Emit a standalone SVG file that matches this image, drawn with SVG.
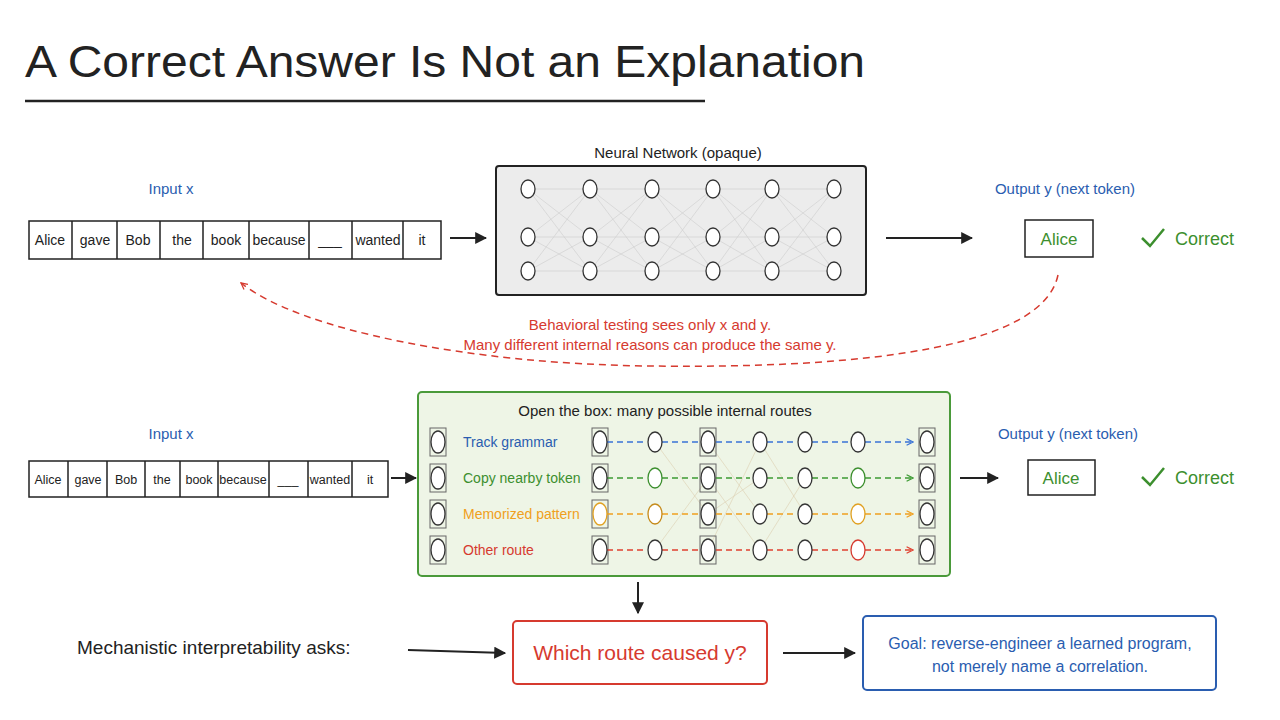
<svg xmlns="http://www.w3.org/2000/svg" width="1280" height="720" viewBox="0 0 1280 720">
<defs>
<marker id="ah" viewBox="0 0 10 10" refX="9" refY="5" markerWidth="8" markerHeight="8" orient="auto-start-reverse" markerUnits="userSpaceOnUse"><path d="M1,1 L9,5 L1,9" fill="none" stroke="context-stroke" stroke-width="1.6"/></marker>
<marker id="ahb" viewBox="0 0 10 10" refX="9" refY="5" markerWidth="12" markerHeight="12" orient="auto" markerUnits="userSpaceOnUse"><path d="M0,0 L10,5 L0,10 Z" fill="#222"/></marker>
</defs>
<style>
text{font-family:"Liberation Sans","DejaVu Sans",sans-serif;fill:#222}
.t{font-size:15px}
.tok{font-size:14px;text-anchor:middle}
.tok2{font-size:12.5px;text-anchor:middle}
.cell{fill:#fff;stroke:#222;stroke-width:1.5}
.nd{fill:#fff;stroke:#333;stroke-width:1.3}
.ln{stroke:#222;stroke-width:2;fill:none;marker-end:url(#ahb)}
.blue{fill:#2a5db0}.green{fill:#3c8f2e}.red{fill:#d63a2f}.orange{fill:#f0a020}
.w{stroke:#ccc;stroke-width:0.6}
</style>
<rect width="1280" height="720" fill="#fff"/>
<text x="25" y="77" style="font-size:44px" textLength="840" lengthAdjust="spacingAndGlyphs">A Correct Answer Is Not an Explanation</text>
<line x1="25" y1="101" x2="705" y2="101" stroke="#222" stroke-width="2.5"/>

<g id="input-top">
<text x="171" y="194" class="t blue" text-anchor="middle">Input x</text>
<rect x="29" y="221" width="412" height="38" class="cell"/>
<path d="M72,221V259M117,221V259M160,221V259M203,221V259M249,221V259M309,221V259M352,221V259M403,221V259" stroke="#222" stroke-width="1.5"/>
<text x="50" y="245" class="tok">Alice</text><text x="95" y="245" class="tok">gave</text><text x="138" y="245" class="tok">Bob</text><text x="182" y="245" class="tok">the</text><text x="226" y="245" class="tok">book</text><text x="279" y="245" class="tok">because</text><text x="330" y="245" class="tok">___</text><text x="378" y="245" class="tok">wanted</text><text x="422" y="245" class="tok">it</text>
</g>

<g id="nn-opaque">
<text x="678" y="158" class="t" text-anchor="middle">Neural Network (opaque)</text>
<rect x="496" y="166" width="370" height="129" rx="3" fill="#ececec" stroke="#222" stroke-width="2"/>
<g class="w">
<path d="M528,189L590,237M528,189L590,271M528,237L590,189M528,237L590,271M528,271L590,189M528,271L590,237M590,189L652,237M590,189L652,271M590,237L652,189M590,237L652,271M590,271L652,189M590,271L652,237M652,189L713,237M652,189L713,271M652,237L713,189M652,237L713,271M652,271L713,189M652,271L713,237M713,189L772,237M713,189L772,271M713,237L772,189M713,237L772,271M713,271L772,189M713,271L772,237M772,189L834,237M772,189L834,271M772,237L834,189M772,237L834,271M772,271L834,189M772,271L834,237M528,189H834M528,237H834M528,271H834"/>
</g>
<g class="nd">
<ellipse cx="528" cy="189" rx="7" ry="9"/><ellipse cx="528" cy="237" rx="7" ry="9"/><ellipse cx="528" cy="271" rx="7" ry="9"/>
<ellipse cx="590" cy="189" rx="7" ry="9"/><ellipse cx="590" cy="237" rx="7" ry="9"/><ellipse cx="590" cy="271" rx="7" ry="9"/>
<ellipse cx="652" cy="189" rx="7" ry="9"/><ellipse cx="652" cy="237" rx="7" ry="9"/><ellipse cx="652" cy="271" rx="7" ry="9"/>
<ellipse cx="713" cy="189" rx="7" ry="9"/><ellipse cx="713" cy="237" rx="7" ry="9"/><ellipse cx="713" cy="271" rx="7" ry="9"/>
<ellipse cx="772" cy="189" rx="7" ry="9"/><ellipse cx="772" cy="237" rx="7" ry="9"/><ellipse cx="772" cy="271" rx="7" ry="9"/>
<ellipse cx="834" cy="189" rx="7" ry="9"/><ellipse cx="834" cy="237" rx="7" ry="9"/><ellipse cx="834" cy="271" rx="7" ry="9"/>
</g>
</g>

<g id="output-top">
<text x="1065" y="194" class="t blue" text-anchor="middle">Output y (next token)</text>
<rect x="1025" y="220" width="68" height="37" class="cell"/>
<text x="1059" y="245" style="font-size:17px" text-anchor="middle" class="green">Alice</text>
<path d="M1142,238l8,8l14,-17" fill="none" stroke="#3c8f2e" stroke-width="2.5"/>
<text x="1175" y="245" style="font-size:18px" class="green">Correct</text>
</g>

<g id="input-bottom">
<text x="171" y="439" class="t blue" text-anchor="middle">Input x</text>
<rect x="29" y="461" width="359" height="36" class="cell"/>
<path d="M68,461V497M107,461V497M145,461V497M180,461V497M218,461V497M269,461V497M308,461V497M352,461V497" stroke="#222" stroke-width="1.5"/>
<text x="48" y="484" class="tok2">Alice</text><text x="88" y="484" class="tok2">gave</text><text x="126" y="484" class="tok2">Bob</text><text x="162" y="484" class="tok2">the</text><text x="199" y="484" class="tok2">book</text><text x="243" y="484" class="tok2">because</text><text x="288" y="484" class="tok2">___</text><text x="330" y="484" class="tok2">wanted</text><text x="370" y="484" class="tok2">it</text>
</g>

<g id="open-box">
<rect x="418" y="392" width="532" height="184" rx="4" fill="#eef5e6" stroke="#4a9a3a" stroke-width="2"/>
<text x="665" y="416" class="t" text-anchor="middle">Open the box: many possible internal routes</text>
<g class="w" style="stroke:#dccfb0">
<path d="M708,442L760,514M708,478L760,550M708,550L760,442M708,514L760,478M655,442L708,514M655,550L708,478M760,442L805,514M760,550L805,478"/>
</g>
<g fill="none" stroke="#666" stroke-width="1">
<rect x="430" y="428" width="16" height="28"/><rect x="430" y="464" width="16" height="28"/><rect x="430" y="500" width="16" height="28"/><rect x="430" y="536" width="16" height="28"/>
<rect x="592" y="428" width="16" height="28"/><rect x="592" y="464" width="16" height="28"/><rect x="592" y="500" width="16" height="28"/><rect x="592" y="536" width="16" height="28"/>
<rect x="700" y="428" width="16" height="28"/><rect x="700" y="464" width="16" height="28"/><rect x="700" y="500" width="16" height="28"/><rect x="700" y="536" width="16" height="28"/>
<rect x="919" y="428" width="16" height="28"/><rect x="919" y="464" width="16" height="28"/><rect x="919" y="500" width="16" height="28"/><rect x="919" y="536" width="16" height="28"/>
</g>
<text x="463" y="447" class="t blue" style="font-size:14px">Track grammar</text>
<text x="463" y="483" class="t green" style="font-size:14px">Copy nearby token</text>
<text x="463" y="519" class="t orange" style="font-size:14px">Memorized pattern</text>
<text x="463" y="555" class="t red" style="font-size:14px">Other route</text>
<g fill="none" stroke-width="1.6" stroke-dasharray="6 4" marker-end="url(#ah)">
<path d="M607,442H645M662,442H698M716,442H750M767,442H795M812,442H848M865,442H913" stroke="#3a73d6"/>
<path d="M607,478H645M662,478H698M716,478H750M767,478H795M812,478H848M865,478H913" stroke="#3c9a33"/>
<path d="M607,514H645M662,514H698M716,514H750M767,514H795M812,514H848M865,514H913" stroke="#f0a020"/>
<path d="M607,550H645M662,550H698M716,550H750M767,550H795M812,550H848M865,550H913" stroke="#e04030"/>
</g>
<g class="nd">
<ellipse cx="438" cy="442" rx="7" ry="11"/><ellipse cx="438" cy="478" rx="7" ry="11"/><ellipse cx="438" cy="514" rx="7" ry="11"/><ellipse cx="438" cy="550" rx="7" ry="11"/>
<ellipse cx="600" cy="442" rx="7" ry="11"/><ellipse cx="600" cy="478" rx="7" ry="11"/><ellipse cx="600" cy="514" rx="7" ry="11" stroke="#e0a020"/><ellipse cx="600" cy="550" rx="7" ry="11"/>
<ellipse cx="655" cy="442" rx="7" ry="10"/><ellipse cx="655" cy="478" rx="7" ry="10" stroke="#3c8f2e"/><ellipse cx="655" cy="514" rx="7" ry="10" stroke="#c58a1a"/><ellipse cx="655" cy="550" rx="7" ry="10"/>
<ellipse cx="708" cy="442" rx="7" ry="11"/><ellipse cx="708" cy="478" rx="7" ry="11"/><ellipse cx="708" cy="514" rx="7" ry="11"/><ellipse cx="708" cy="550" rx="7" ry="11"/>
<ellipse cx="760" cy="442" rx="7" ry="10"/><ellipse cx="760" cy="478" rx="7" ry="10"/><ellipse cx="760" cy="514" rx="7" ry="10"/><ellipse cx="760" cy="550" rx="7" ry="10"/>
<ellipse cx="805" cy="442" rx="7" ry="10"/><ellipse cx="805" cy="478" rx="7" ry="10"/><ellipse cx="805" cy="514" rx="7" ry="10"/><ellipse cx="805" cy="550" rx="7" ry="10"/>
<ellipse cx="858" cy="442" rx="7" ry="10"/><ellipse cx="858" cy="478" rx="7" ry="10" stroke="#3c8f2e"/><ellipse cx="858" cy="514" rx="7" ry="10" stroke="#e0a020"/><ellipse cx="858" cy="550" rx="7" ry="10" stroke="#d63a2f"/>
<ellipse cx="927" cy="442" rx="7" ry="11"/><ellipse cx="927" cy="478" rx="7" ry="11"/><ellipse cx="927" cy="514" rx="7" ry="11"/><ellipse cx="927" cy="550" rx="7" ry="11"/>
</g>
</g>

<g id="output-bottom">
<text x="1068" y="439" class="t blue" text-anchor="middle">Output y (next token)</text>
<rect x="1028" y="460" width="67" height="35" class="cell"/>
<text x="1061" y="484" style="font-size:17px" text-anchor="middle" class="green">Alice</text>
<path d="M1142,477l8,8l14,-17" fill="none" stroke="#3c8f2e" stroke-width="2.5"/>
<text x="1175" y="484" style="font-size:18px" class="green">Correct</text>
</g>

<g id="mech-label"><text x="77" y="654" style="font-size:19px">Mechanistic interpretability asks:</text></g>
<g id="which-route">
<rect x="513" y="621" width="254" height="63" rx="4" fill="#fff" stroke="#d63a2f" stroke-width="2"/>
<text x="640" y="660" style="font-size:21px" text-anchor="middle" class="red">Which route caused y?</text>
</g>
<g id="goal">
<rect x="863" y="616" width="353" height="74" rx="4" fill="#fff" stroke="#2a5db0" stroke-width="2"/>
<text x="1040" y="649" class="t blue" style="font-size:16px" text-anchor="middle">Goal: reverse-engineer a learned program,</text>
<text x="1040" y="672" class="t blue" style="font-size:16px" text-anchor="middle">not merely name a correlation.</text>
</g>

<g id="connectors">
<line x1="450" y1="238" x2="486" y2="238" class="ln"/>
<line x1="886" y1="238" x2="972" y2="238" class="ln"/>
<line x1="391" y1="478" x2="416" y2="478" class="ln"/>
<line x1="960" y1="478" x2="998" y2="478" class="ln"/>
<line x1="638" y1="582" x2="638" y2="613" class="ln"/>
<line x1="408" y1="650" x2="505" y2="653" class="ln"/>
<line x1="783" y1="653" x2="855" y2="653" class="ln"/>
<path d="M1058,275C1040,360 800,368 650,366C470,364 300,330 241,283" fill="none" stroke="#d63a2f" stroke-width="1.5" stroke-dasharray="7 5" marker-end="url(#ah)"/>
<text x="650" y="330" class="t red" text-anchor="middle">Behavioral testing sees only x and y.</text>
<text x="650" y="350" class="t red" text-anchor="middle">Many different internal reasons can produce the same y.</text>
</g>
</svg>
